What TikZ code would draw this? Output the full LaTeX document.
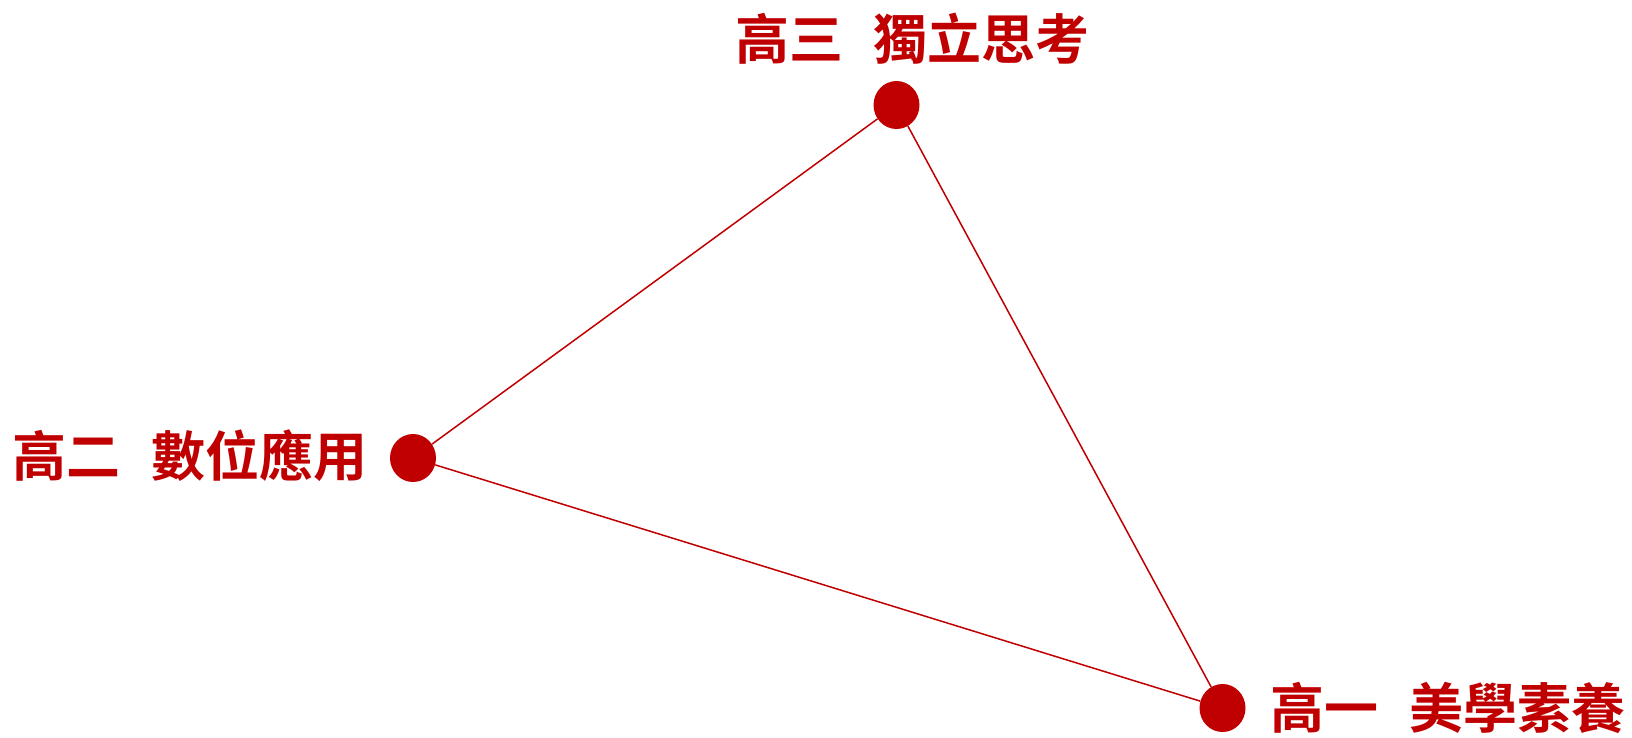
\documentclass[tikz,border=0pt]{standalone}
\usepackage{fontspec}
\newfontfamily\cjk{Noto Sans CJK TC Bold}
\usetikzlibrary{shapes.geometric}
\definecolor{dred}{HTML}{C00000}
\tikzset{
  dot/.style={ellipse, fill=dred, draw=none, minimum width=46pt, minimum height=48pt, inner sep=0pt},
  edge/.style={draw=dred, line width=1.5pt},
  lbl/.style={text=dred, inner sep=0pt, font=\cjk\fontsize{54}{60}\selectfont}
}
\begin{document}
\begin{tikzpicture}[x=1pt,y=-1pt]
\useasboundingbox (0,0) rectangle (1632,737);
\node[dot] (top) at (896.5,105) {};
\node[dot] (left) at (413,458) {};
\node[dot] (br) at (1222.5,708) {};
\begin{scope}[on background layer/.try]
\end{scope}
\draw[edge] (top) -- (left);
\draw[edge] (left) -- (br);
\draw[edge] (br) -- (top);
\node[lbl] (ttop) at (912.5,39) {高三\hspace{0.57em}獨立思考};
\node[lbl] (tleft) at (190,456) {高二\hspace{0.57em}數位應用};
\node[lbl] (tbr) at (1448,708) {高一\hspace{0.57em}美學素養};
\end{tikzpicture}
\end{document}
